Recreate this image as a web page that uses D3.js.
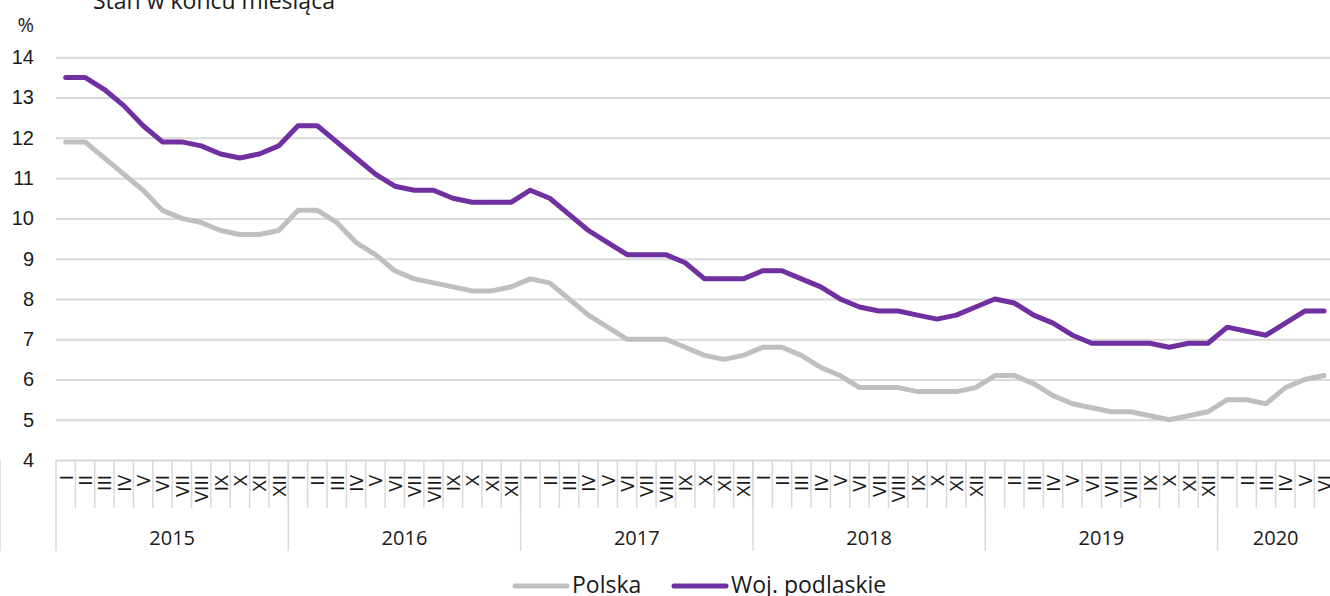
<!DOCTYPE html>
<html>
<head>
<meta charset="utf-8">
<script src="https://cdn.jsdelivr.net/npm/d3@7"></script>
<style>
  body { margin: 0; background: #fff; }
  svg { display: block; font-family: "Open Sans", Roboto, sans-serif; }
</style>
</head>
<body>
<svg id="chart" width="1330" height="596"></svg>
<script>
// months as roman numerals, years with how many months each
var romans = ["I","II","III","IV","V","VI","VII","VIII","IX","X","XI","XII"];
var years = [2015, 2016, 2017, 2018, 2019, 2020];
var monthsInYear = [12, 12, 12, 12, 12, 6];
var yTicks = [4, 5, 6, 7, 8, 9, 10, 11, 12, 13, 14];

var polska = [
  11.9, 11.9, 11.5, 11.1, 10.7, 10.2, 10.0, 9.9, 9.7, 9.6, 9.6, 9.7,
  10.2, 10.2, 9.9, 9.4, 9.1, 8.7, 8.5, 8.4, 8.3, 8.2, 8.2, 8.3,
  8.5, 8.4, 8.0, 7.6, 7.3, 7.0, 7.0, 7.0, 6.8, 6.6, 6.5, 6.6,
  6.8, 6.8, 6.6, 6.3, 6.1, 5.8, 5.8, 5.8, 5.7, 5.7, 5.7, 5.8,
  6.1, 6.1, 5.9, 5.6, 5.4, 5.3, 5.2, 5.2, 5.1, 5.0, 5.1, 5.2,
  5.5, 5.5, 5.4, 5.8, 6.0, 6.1
];
var podlaskie = [
  13.5, 13.5, 13.2, 12.8, 12.3, 11.9, 11.9, 11.8, 11.6, 11.5, 11.6, 11.8,
  12.3, 12.3, 11.9, 11.5, 11.1, 10.8, 10.7, 10.7, 10.5, 10.4, 10.4, 10.4,
  10.7, 10.5, 10.1, 9.7, 9.4, 9.1, 9.1, 9.1, 8.9, 8.5, 8.5, 8.5,
  8.7, 8.7, 8.5, 8.3, 8.0, 7.8, 7.7, 7.7, 7.6, 7.5, 7.6, 7.8,
  8.0, 7.9, 7.6, 7.4, 7.1, 6.9, 6.9, 6.9, 6.9, 6.8, 6.9, 6.9,
  7.3, 7.2, 7.1, 7.4, 7.7, 7.7
];

// flat list of months
var months = [];
years.forEach(function(y, yi) {
  for (var m = 0; m < monthsInYear[yi]; m++) months.push({year: y, label: romans[m]});
});

var svg = d3.select("#chart");
var left = 56, step = 19.36;
var x = d3.scaleBand()
  .domain(d3.range(months.length))
  .range([left, left + step * months.length]);
var y = d3.scaleLinear().domain([4, 14]).range([460.1, 57.3]);
var gridRight = 1330;
var textColor = "#1a1a1a";

// gridlines + y labels
svg.append("g")
  .attr("transform", "translate(" + left + ",0)")
  .call(d3.axisLeft(y).tickValues(yTicks).tickSize(-(gridRight - left)).tickPadding(22))
  .call(function(g) {
    g.select(".domain").remove();
    g.selectAll("line").attr("stroke", "#d9d9d9").attr("stroke-width", 2);
    g.selectAll("text").attr("font-size", 20).attr("fill", textColor);
  });

svg.append("text")
  .attr("x", 34).attr("y", 32)
  .attr("text-anchor", "end")
  .attr("font-size", 20)
  .attr("fill", textColor)
  .text("%");

svg.append("text")
  .attr("x", 93).attr("y", 9)
  .attr("font-size", 23)
  .attr("fill", textColor)
  .text("Stan w końcu miesiąca");

// x axis: month ticks, labels, year separators
var axisG = svg.append("g");
var yearStart = 0;
years.forEach(function(yr, yi) {
  var x0 = x(yearStart);
  axisG.append("line")
    .attr("x1", x0).attr("x2", x0).attr("y1", 460).attr("y2", 551)
    .attr("stroke", "#d9d9d9").attr("stroke-width", 1.5);
  var x1 = x(yearStart + monthsInYear[yi] - 1) + x.bandwidth();
  axisG.append("text")
    .attr("x", (x0 + x1) / 2).attr("y", 545)
    .attr("text-anchor", "middle")
    .attr("font-size", 20)
    .attr("fill", textColor)
    .text(yr);
  yearStart += monthsInYear[yi];
});
axisG.append("line")
  .attr("x1", x(yearStart)).attr("x2", x(yearStart)).attr("y1", 460).attr("y2", 551)
  .attr("stroke", "#d9d9d9").attr("stroke-width", 1.5);

months.forEach(function(d, i) {
  if (i > 0) {
    axisG.append("line")
      .attr("x1", x(i)).attr("x2", x(i)).attr("y1", 460).attr("y2", 508)
      .attr("stroke", "#d9d9d9").attr("stroke-width", 1.5);
  }
  var cx = x(i) + x.bandwidth() / 2;
  axisG.append("text")
    .attr("transform", "translate(" + cx + ",475) rotate(-90)")
    .attr("text-anchor", "end")
    .attr("dominant-baseline", "central")
    .attr("font-size", 19)
    .attr("fill", textColor)
    .text(d.label);
});

// lines
var line = d3.line()
  .x(function(d, i) { return x(i) + x.bandwidth() / 2; })
  .y(function(d) { return y(d); });

svg.append("path")
  .datum(polska)
  .attr("d", line)
  .attr("fill", "none")
  .attr("stroke", "#bfbfbf")
  .attr("stroke-width", 5)
  .attr("stroke-linejoin", "round")
  .attr("stroke-linecap", "round");

svg.append("path")
  .datum(podlaskie)
  .attr("d", line)
  .attr("fill", "none")
  .attr("stroke", "#7030a0")
  .attr("stroke-width", 5)
  .attr("stroke-linejoin", "round")
  .attr("stroke-linecap", "round");

// legend
var legend = [
  {name: "Polska", color: "#bfbfbf", x: 515},
  {name: "Woj. podlaskie", color: "#7030a0", x: 674}
];
legend.forEach(function(l) {
  svg.append("line")
    .attr("x1", l.x).attr("x2", l.x + 52).attr("y1", 586).attr("y2", 586)
    .attr("stroke", l.color).attr("stroke-width", 5).attr("stroke-linecap", "round");
  svg.append("text")
    .attr("x", l.x + 57).attr("y", 593)
    .attr("font-size", 23)
    .attr("fill", textColor)
    .text(l.name);
});
</script>
</body>
</html>
